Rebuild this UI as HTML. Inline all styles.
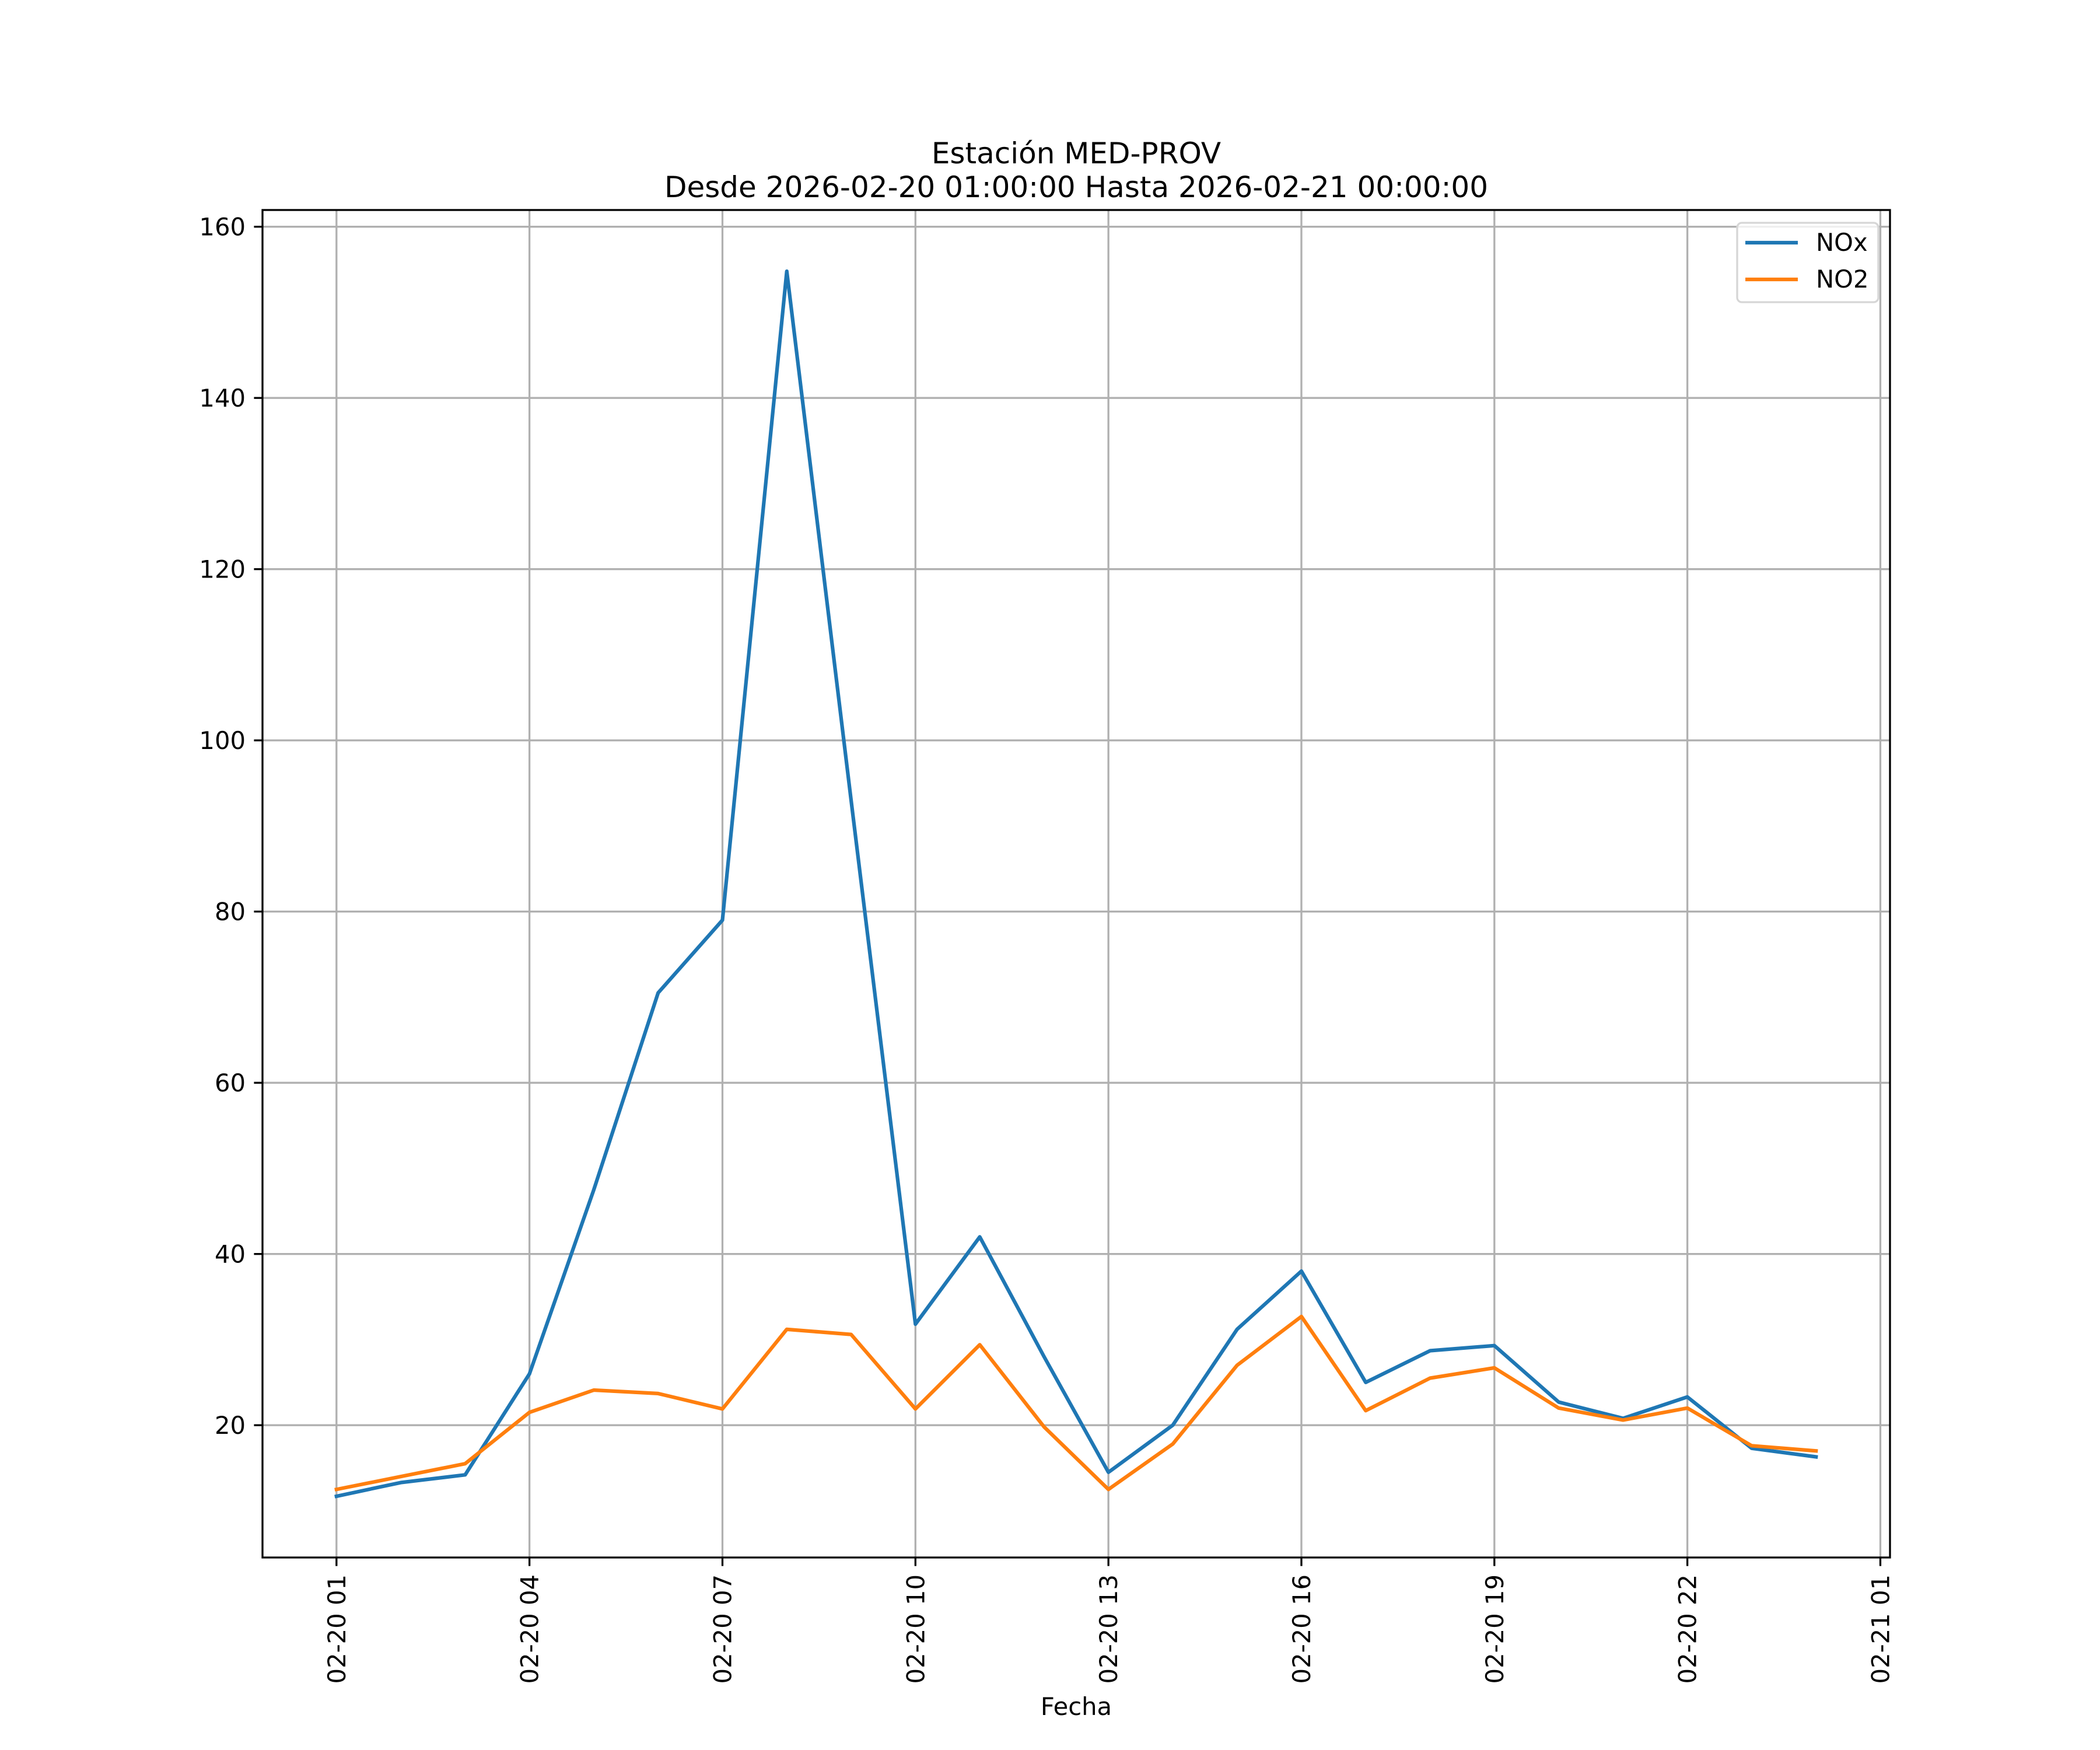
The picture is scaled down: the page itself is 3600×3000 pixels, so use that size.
<!DOCTYPE html>
<html><head><meta charset="utf-8"><style>body{margin:0;background:#fff}svg{display:block}</style></head>
<body>
<svg id="chart" width="3600" height="3000" xmlns="http://www.w3.org/2000/svg" font-family="'DejaVu Sans','Liberation Sans',sans-serif">
<rect width="3600" height="3000" fill="#fff"/>
<text x="1845" y="280" font-size="50" text-anchor="middle">Estación MED-PROV</text>
<text x="1845" y="338" font-size="50" text-anchor="middle">Desde 2026-02-20 01:00:00 Hasta 2026-02-21 00:00:00</text>
<g id="grid"></g><g id="series"></g><g id="axes"></g>
<text x="1845" y="2940" font-size="41.7" text-anchor="middle">Fecha</text>
<g>
<rect x="2978" y="382" width="242" height="136" rx="8" fill="#fff" fill-opacity="0.8" stroke="#d6d6d6" stroke-width="3.3"/>
<line x1="2992" x2="3082" y1="416" y2="416" stroke="#1f77b4" stroke-width="6.25"/>
<text x="3113" y="430" font-size="41.7">NOx</text>
<line x1="2992" x2="3082" y1="479" y2="479" stroke="#ff7f0e" stroke-width="6.25"/>
<text x="3113" y="493" font-size="41.7">NO2</text>
</g>
</svg>
<script>
const hours = [1,2,3,4,5,6,7,8,9,10,11,12,13,14,15,16,17,18,19,20,21,22,23,24];
const noxValues = [11.7,13.3,14.2,26,47.5,70.5,79,154.8,93,31.8,42,28,14.5,20,31.2,38,25,28.7,29.3,22.7,20.8,23.3,17.3,16.3];
const no2Values = [12.5,14,15.5,21.5,24.1,23.7,21.9,31.2,30.6,21.9,29.4,19.8,12.5,17.8,27,32.7,21.7,25.5,26.7,22,20.6,22,17.6,17];
const xTickHours = [1,4,7,10,13,16,19,22,25];
const xTickLabels = ["02-20 01","02-20 04","02-20 07","02-20 10","02-20 13","02-20 16","02-20 19","02-20 22","02-21 01"];
const yTicks = [20,40,60,80,100,120,140,160];

const L=450,R=3240,T=360,B=2670;
const NS="http://www.w3.org/2000/svg";
const all=noxValues.concat(no2Values);
const dmin=Math.min(...all),dmax=Math.max(...all);
const ymin=dmin-(dmax-dmin)*0.05,ymax=dmax+(dmax-dmin)*0.05;
const hmin=hours[0],hmax=hours[hours.length-1];
const xmin=hmin-(hmax-hmin)*0.05,xmax=hmax+(hmax-hmin)*0.05;
const xs=h=>L+(h-xmin)/(xmax-xmin)*(R-L);
const ys=v=>B-(v-ymin)/(ymax-ymin)*(B-T);
function mk(tag,attrs,parent){const e=document.createElementNS(NS,tag);for(const k in attrs)e.setAttribute(k,attrs[k]);parent.appendChild(e);return e;}
const grid=document.getElementById('grid'),axes=document.getElementById('axes'),series=document.getElementById('series');
xTickHours.forEach((h,i)=>{const x=xs(h);
 const g=mk('line',{x1:x,x2:x,y1:T,y2:B,stroke:'#b0b0b0','stroke-width':3.3},grid);
 
 
 const t=mk('line',{x1:x,x2:x,y1:B,y2:B+14.6,stroke:'#000','stroke-width':3.3},axes);
 
 
 const tx=mk('text',{x:0,y:0,'font-size':41.7,'text-anchor':'end',transform:`translate(${x+15},${B+29}) rotate(-90)`},axes);
 tx.textContent=xTickLabels[i];
 
 
});
yTicks.forEach(v=>{const y=ys(v);
 const g=mk('line',{x1:L,x2:R,y1:y,y2:y,stroke:'#b0b0b0','stroke-width':3.3},grid);
 
 
 const t=mk('line',{x1:L-14.6,x2:L,y1:y,y2:y,stroke:'#000','stroke-width':3.3},axes);
 
 
 const tx=mk('text',{x:L-29,y:y+15,'font-size':41.7,'text-anchor':'end'},axes);
 tx.textContent=v;
 
 
});
const frame=mk('rect',{x:L,y:T,width:R-L,height:B-T,fill:'none',stroke:'#000','stroke-width':3.3},axes);


function line(vals,color,name){
 const p=mk('polyline',{points:vals.map((v,i)=>xs(hours[i])+','+ys(v)).join(' '),fill:'none',stroke:color,'stroke-width':6.25,'stroke-linejoin':'round','stroke-linecap':'square'},series);
 
 
}
line(noxValues,'#1f77b4','nox-line');
line(no2Values,'#ff7f0e','no2-line');
</script>
</body></html>
